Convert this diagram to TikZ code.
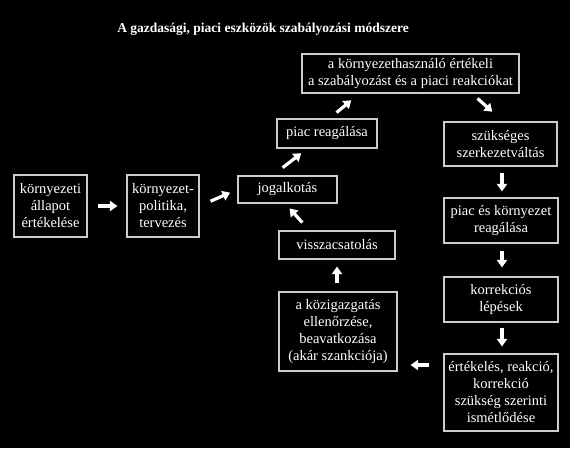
\documentclass[tikz,border=0pt]{standalone}
\usepackage{fontspec}
\setmainfont{Liberation Serif}
\usetikzlibrary{arrows.meta}
\begin{document}
\begin{tikzpicture}[x=1pt,y=-1pt,
  box/.style={draw=black!20, line width=1.1pt, text=white, align=center, inner sep=0pt,
    font=\fontsize{14.5}{17}\selectfont},
  blockarrow/.style={draw=white, line width=3.2pt,
    -{Triangle[length=7.5pt,width=10pt]}}]
\useasboundingbox[fill=black] (0,0) rectangle (570,448);
\node[font=\bfseries\fontsize{13.5}{16}\selectfont, text=white] (title) at (263,29) {A gazdasági, piaci eszközök szabályozási módszere};
\node[box, minimum width=217pt, minimum height=39pt] (top) at (410.5,73.5) {a környezethasználó értékeli\\a szabályozást és a piaci reakciókat};
\node[box, minimum width=100pt, minimum height=29pt] (piac) at (327,133.5) {piac reagálása};
\node[box, minimum width=113pt, minimum height=44pt] (szuks) at (500.5,144) {szükséges\\szerkezetváltás};
\node[box, minimum width=73pt, minimum height=62pt] (kornyez) at (50.5,206) {környezeti\\állapot\\értékelése};
\node[box, minimum width=72pt, minimum height=62pt] (polit) at (163,206) {környezet-\\politika,\\tervezés};
\node[box, minimum width=99pt, minimum height=27pt] (jog) at (287.5,189.5) {jogalkotás};
\node[box, minimum width=116pt, minimum height=28pt] (vissza) at (337,245) {visszacsatolás};
\node[box, minimum width=118pt, minimum height=79pt] (kozig) at (338,331.5) {a közigazgatás\\ellenőrzése,\\beavatkozása\\(akár szankciója)};
\node[box, minimum width=114pt, minimum height=45pt] (piacks) at (501,220.5) {piac és környezet\\reagálása};
\node[box, minimum width=114pt, minimum height=45pt] (korr) at (501,299.5) {korrekciós\\lépések};
\node[box, minimum width=114pt, minimum height=77pt] (ert) at (501,392.5) {értékelés, reakció,\\korrekció\\szükség szerinti\\ismétlődése};
% arrows
\draw[blockarrow, shorten <=10pt, shorten >=9pt] (kornyez.east) -- (polit.west);
\draw[blockarrow, shorten <=12pt, shorten >=8pt] (polit.east) -- (jog.west);
\draw[blockarrow, shorten <=12.8pt, shorten >=7.8pt] ([xshift=35pt]jog.north west) -- ([xshift=31pt]piac.south west);
\draw[blockarrow, shorten <=9.2pt, shorten >=10.6pt] ([xshift=53pt]piac.north west) -- ([xshift=58pt]top.south west);
\draw[blockarrow, shorten <=7.4pt, shorten >=14.6pt] ([xshift=170.6pt]top.south west) -- ([xshift=59.7pt]szuks.north west);
\draw[blockarrow, shorten <=6pt, shorten >=6pt] ([xshift=1.5pt]szuks.south) -- ([xshift=1pt]piacks.north);
\draw[blockarrow, shorten <=7pt, shorten >=9pt] ([xshift=1pt]piacks.south) -- ([xshift=1pt]korr.north);
\draw[blockarrow, shorten <=5pt, shorten >=7pt] ([xshift=1pt]korr.south) -- ([xshift=1pt]ert.north);
\draw[blockarrow, shorten <=14pt, shorten >=13pt] ([yshift=27.5pt]ert.west) -- ([yshift=-33.5pt]kozig.east);
\draw[blockarrow, shorten <=8pt, shorten >=7pt] ([xshift=-1pt]kozig.north) -- (vissza.south);
\draw[blockarrow, shorten <=10.6pt, shorten >=6.6pt] ([xshift=31pt]vissza.north west) -- ([xshift=47.7pt]jog.south west);
\end{tikzpicture}
\end{document}
